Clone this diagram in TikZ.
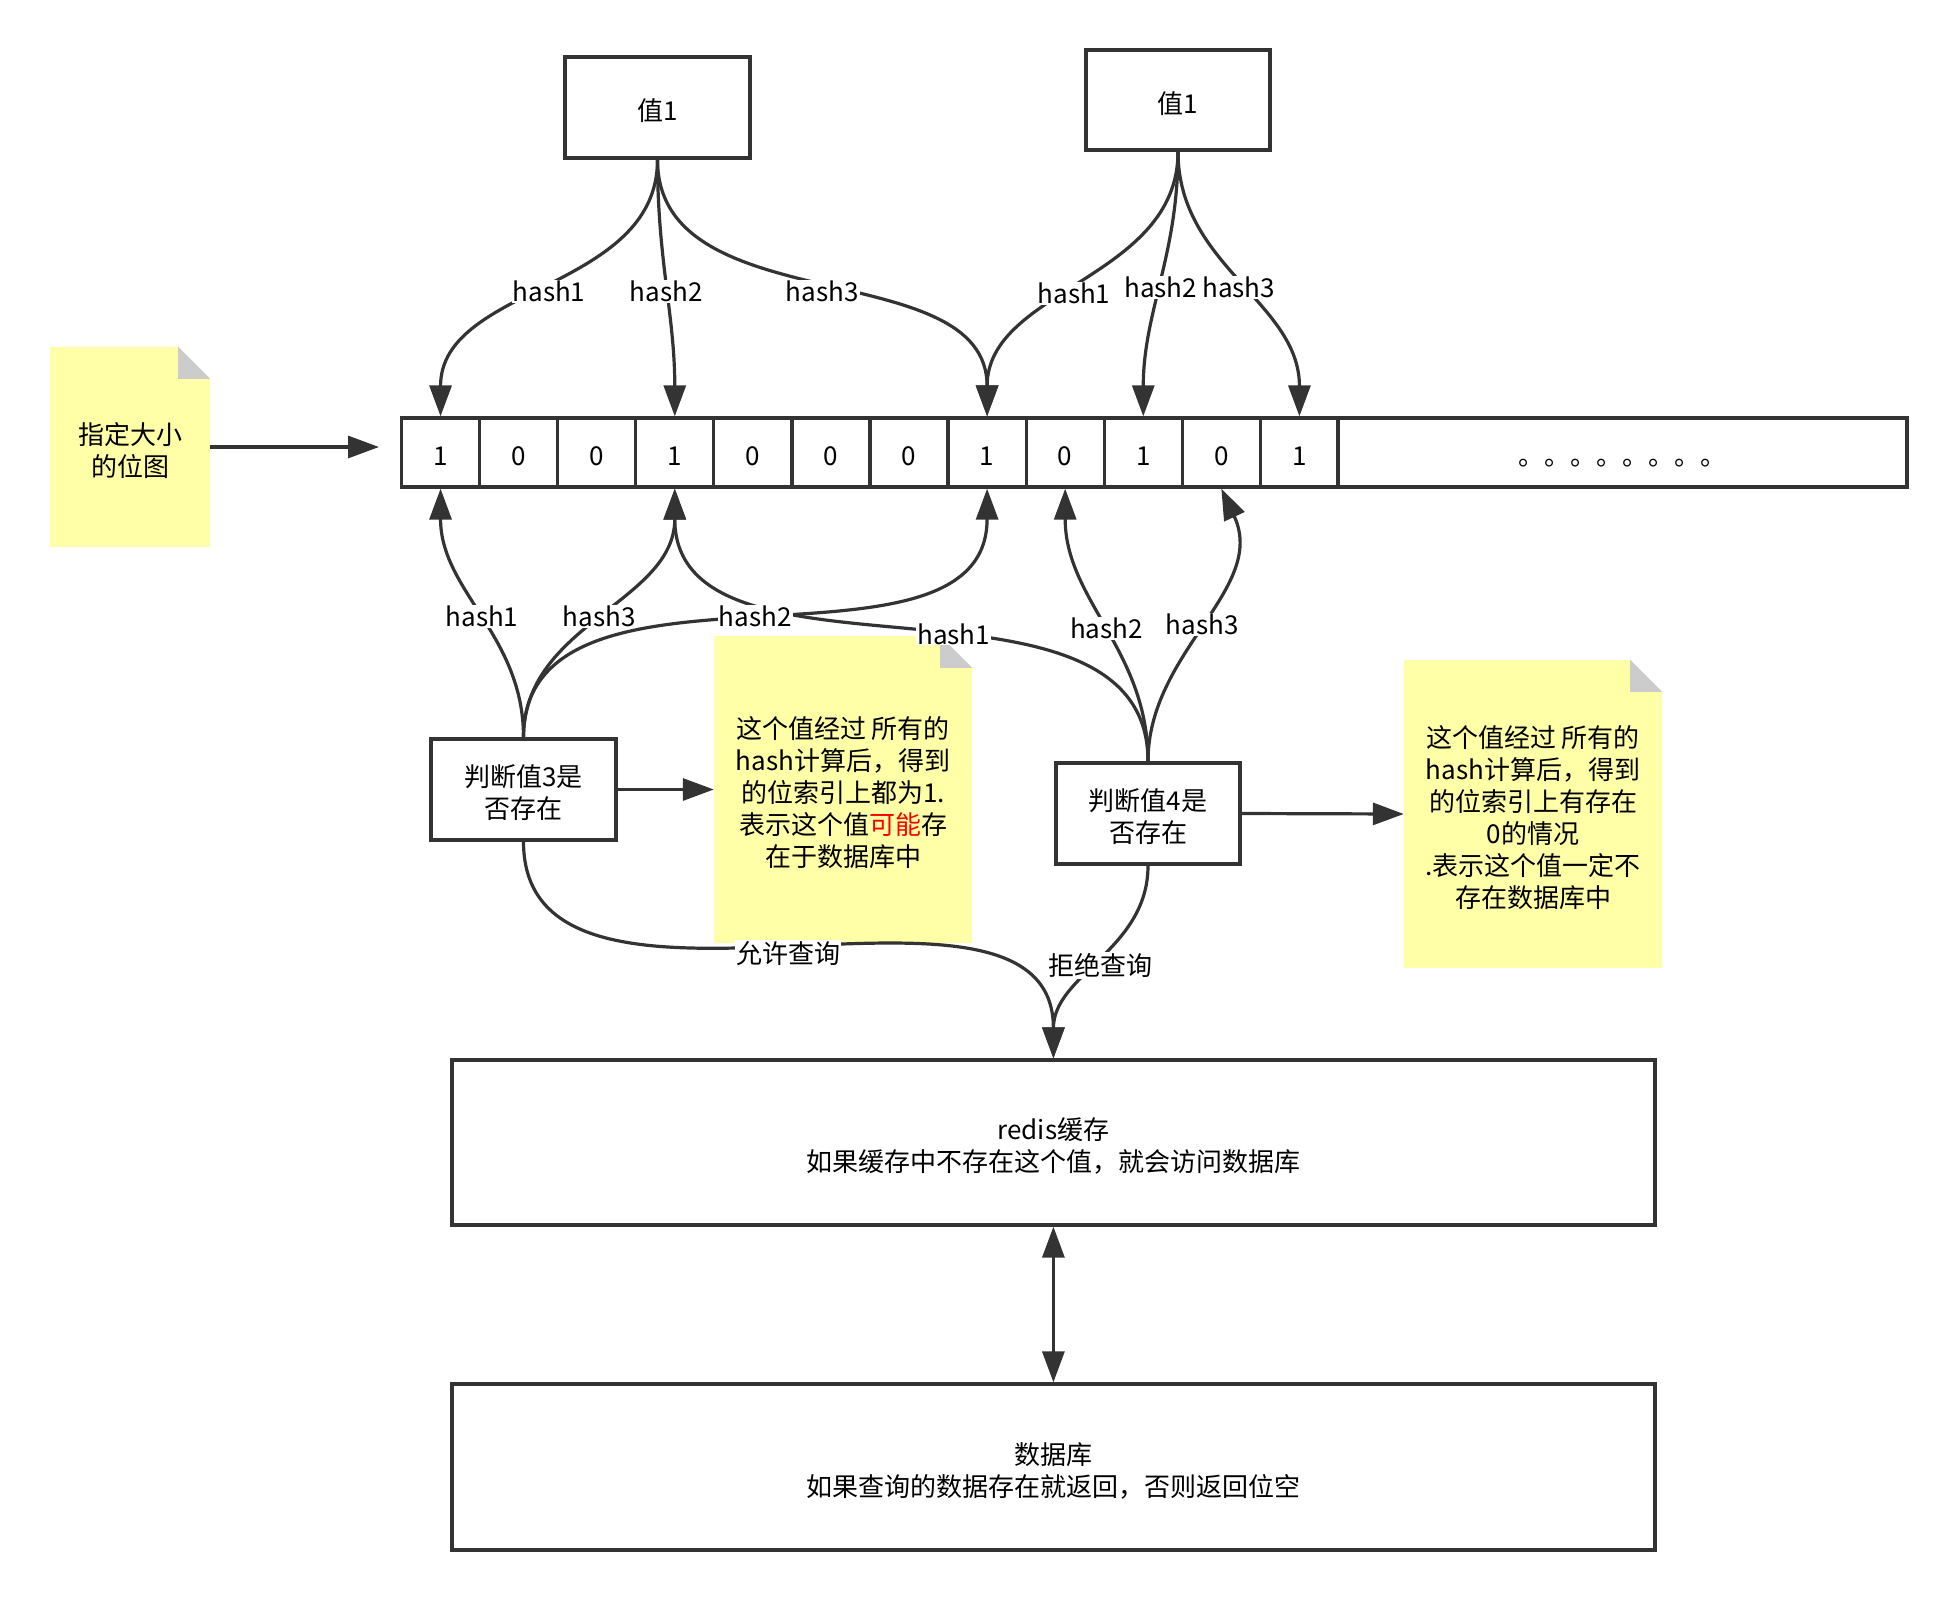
\documentclass[tikz,border=0pt]{standalone}
\usepackage{fontspec}
\setmainfont{Noto Sans CJK SC}
\usetikzlibrary{arrows.meta}
\definecolor{ln}{HTML}{333333}
\definecolor{notey}{HTML}{FFFFA8}
\definecolor{foldc}{HTML}{CCCCCC}
\newcommand{\myup}{\rule{0pt}{29pt}}
\begin{document}
\begin{tikzpicture}[x=1pt,y=-1pt,
  every node/.style={font=\fontsize{26}{32}\selectfont, text=black},
  box/.style={draw=ln, line width=3.3pt, fill=white, align=center, inner sep=0pt},
  cell/.style={draw=ln, line width=3.3pt, minimum width=78.08pt, minimum height=69pt, inner sep=0pt, text height=25pt, text depth=0pt},
  note/.style={fill=notey, align=center, inner sep=0pt},
  lbl/.style={fill=white, inner sep=1pt, yshift=-3.5pt},
  arr/.style={draw=ln, line width=3.2pt, -{Triangle[length=31pt,width=22pt]}},
  dbl/.style={draw=ln, line width=3.2pt, {Triangle[length=31pt,width=22pt]}-{Triangle[length=31pt,width=22pt]}}
]
\useasboundingbox (0,0) rectangle (1958,1600);

% notes
\node[note, minimum width=160pt, minimum height=200pt] (n1) at (130,447) {\myup 指定大小\\的位图};
\node[note, minimum width=258pt, minimum height=307pt] (n2) at (843,789.5)
  {\myup 这个值经过 所有的\\hash计算后，得到\\的位索引上都为1.\\表示这个值\textcolor{red}{可能}存\\在于数据库中};
\node[note, minimum width=258pt, minimum height=308pt] (n3) at (1533,814)
  {\myup 这个值经过 所有的\\hash计算后，得到\\的位索引上有存在\\0的情况\\.表示这个值一定不\\存在数据库中};
\foreach \n in {n1,n2,n3}{
  \fill[white] ([xshift=-32pt]\n.north east) -- (\n.north east) -- ([yshift=-32pt]\n.north east) -- cycle;
  \fill[foldc] ([xshift=-32pt]\n.north east) -- ([xshift=-32pt,yshift=-32pt]\n.north east) -- ([yshift=-32pt]\n.north east) -- cycle;
}

% value boxes
\node[box, minimum width=185pt, minimum height=101pt] (v1) at (657.5,107.5) {\myup 值1};
\node[box, minimum width=184pt, minimum height=100pt] (v2) at (1178,100) {\myup 值1};

% bit array
\foreach \v [count=\i from 0] in {1,0,0,1,0,0,0,1,0,1,0,1}
  \node[cell] (c\i) at ({401.5+78.08*(\i+0.5)},452.5) {\v};
\node[cell, minimum width=569pt] (cb) at (1622.5,452.5) {。。。。。。。。};

% query boxes
\node[box, minimum width=185pt, minimum height=101pt] (b3) at (523.5,789.5) {\myup 判断值3是\\否存在};
\node[box, minimum width=184pt, minimum height=101pt] (b4) at (1148,813.5) {\myup 判断值4是\\否存在};

% storage boxes
\node[box, minimum width=1203pt, minimum height=165pt] (redis) at (1053.4,1142.5) {\myup redis缓存\\如果缓存中不存在这个值，就会访问数据库};
\node[box, minimum width=1203pt, minimum height=166pt] (db) at (1053.4,1467) {\myup 数据库\\如果查询的数据存在就返回，否则返回位空};

% top hashes
\draw[arr] (v1.south) to[out=-90,in=90] node[lbl]{hash1} (c0.north);
\draw[arr] (v1.south) to[out=-90,in=90] node[lbl]{hash2} (c3.north);
\draw[arr] (v1.south) to[out=-90,in=90] node[lbl]{hash3} (c7.north);
\draw[arr] (v2.south) to[out=-90,in=90] node[lbl,pos=.53]{hash1} (c7.north);
\draw[arr] (v2.south) to[out=-90,in=90] node[lbl]{hash2} (c9.north);
\draw[arr] (v2.south) to[out=-90,in=90] node[lbl]{hash3} (c11.north);

% bottom hashes
\draw[arr] (b4.north) to[out=90,in=-90] node[lbl,pos=.44]{hash1} (c3.south);
\draw[arr] (b4.north) to[out=90,in=-90] node[lbl]{hash2} (c8.south);
\draw[arr] (b4.north) to[out=90,in=-65] node[lbl]{hash3} (c10.south);
\draw[arr] (b3.north) to[out=90,in=-90] node[lbl]{hash1} (c0.south);
\draw[arr] (b3.north) to[out=90,in=-90] node[lbl]{hash3} (c3.south);
\draw[arr] (b3.north) to[out=90,in=-90] node[lbl]{hash2} (c7.south);

% side arrows
\coordinate (bm) at (379,447);
\draw[arr] (n1.east) -- (bm);
\draw[arr] (b3.east) -- (n2.west);
\draw[arr] (b4.east) -- (n3.west);

% to redis / db
\draw[arr] (b3.south) to[out=-90,in=90] node[lbl]{允许查询} (redis.north);
\draw[arr] (b4.south) to[out=-90,in=90] node[lbl]{拒绝查询} (redis.north);
\draw[dbl] (redis.south) -- (db.north);
\end{tikzpicture}
\end{document}
